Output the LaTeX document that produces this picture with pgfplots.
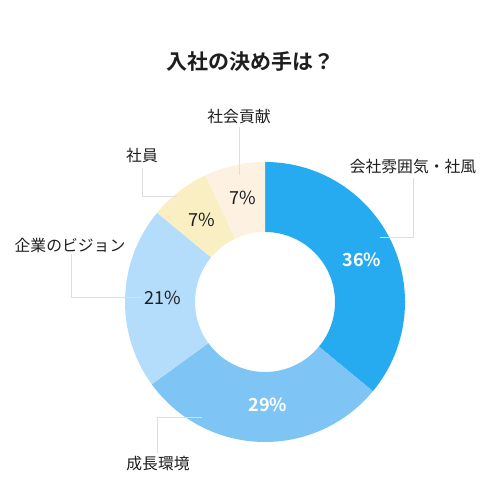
\documentclass[border=0pt]{standalone}
\usepackage{pgfplots}
\pgfplotsset{compat=1.18}
\usepackage{fontspec}
\setmainfont{Noto Sans CJK JP}
\newfontfamily\cjkb{Noto Sans CJK JP Bold}
\definecolor{cA}{RGB}{38,171,241}
\definecolor{cB}{RGB}{126,197,246}
\definecolor{cC}{RGB}{179,221,251}
\definecolor{cD}{RGB}{250,238,195}
\definecolor{cE}{RGB}{253,242,226}
\definecolor{lead}{RGB}{222,222,222}
\definecolor{txt}{RGB}{30,30,30}
\begin{document}
\begin{tikzpicture}
% values (percent)
\def\va{36}\def\vb{29}\def\vc{21}\def\vd{7}\def\ve{7}
\pgfmathsetmacro\aA{90}
\pgfmathsetmacro\aB{\aA-3.6*\va}
\pgfmathsetmacro\aC{\aB-3.6*\vb}
\pgfmathsetmacro\aD{\aC-3.6*\vc}
\pgfmathsetmacro\aE{\aD-3.6*\vd}
\pgfmathsetmacro\aF{\aE-3.6*\ve}
\begin{axis}[x=1bp,y=1bp,xmin=-265,xmax=235,ymin=-198,ymax=302,
  hide axis,scale only axis,clip=false]
\newcommand\slice[3]{%
  \fill[#3] (axis cs:0,0) ++(#1:140bp) arc[start angle=#1,end angle=#2,radius=140bp]
     -- ++(#2:-70bp) arc[start angle=#2,end angle=#1,radius=70bp] -- cycle;}
\path (axis cs:-265,-198) rectangle (axis cs:235,302);
\slice{\aA}{\aB}{cA}
\slice{\aB}{\aC}{cB}
\slice{\aC}{\aD}{cC}
\slice{\aD}{\aE}{cD}
\slice{\aE}{\aF}{cE}
% leader lines
\draw[lead,line width=0.8bp] (axis cs:115,65) -- (axis cs:148,65) -- (axis cs:148,124);
\draw[lead,line width=0.8bp] (axis cs:-26,127) -- (axis cs:-26,175);
\draw[lead,line width=0.8bp] (axis cs:-88,106) -- (axis cs:-123,106) -- (axis cs:-123,134);
\draw[lead,line width=0.8bp] (axis cs:-123,5) -- (axis cs:-194,5) -- (axis cs:-194,48);
\draw[lead,line width=0.8bp] (axis cs:-63,-115) -- (axis cs:-108,-115) -- (axis cs:-108,-151);
% category labels
\node[txt,font=\fontsize{15.8bp}{18bp}\selectfont] at (axis cs:148,135) {会社雰囲気・社風};
\node[txt,font=\fontsize{15.8bp}{18bp}\selectfont] at (axis cs:-26,185) {社会貢献};
\node[txt,font=\fontsize{15.8bp}{18bp}\selectfont] at (axis cs:-123,146) {社員};
\node[txt,font=\fontsize{15.8bp}{18bp}\selectfont] at (axis cs:-195,57) {企業のビジョン};
\node[txt,font=\fontsize{15.8bp}{18bp}\selectfont] at (axis cs:-107,-162) {成長環境};
% percent labels
\node[white,font=\cjkb\fontsize{18bp}{20bp}\selectfont] at (axis cs:97,42) {36\%};
\node[white,font=\cjkb\fontsize{18bp}{20bp}\selectfont] at (axis cs:3,-103) {29\%};
\node[txt,font=\fontsize{18bp}{20bp}\selectfont] at (axis cs:-102,4) {21\%};
\node[txt,font=\fontsize{18bp}{20bp}\selectfont] at (axis cs:-63,82) {7\%};
\node[txt,font=\fontsize{18bp}{20bp}\selectfont] at (axis cs:-22,104) {7\%};
% title
\node[txt,font=\cjkb\fontsize{21bp}{24bp}\selectfont] at (axis cs:-15,240) {入社の決め手は？};
\end{axis}
\end{tikzpicture}
\end{document}
